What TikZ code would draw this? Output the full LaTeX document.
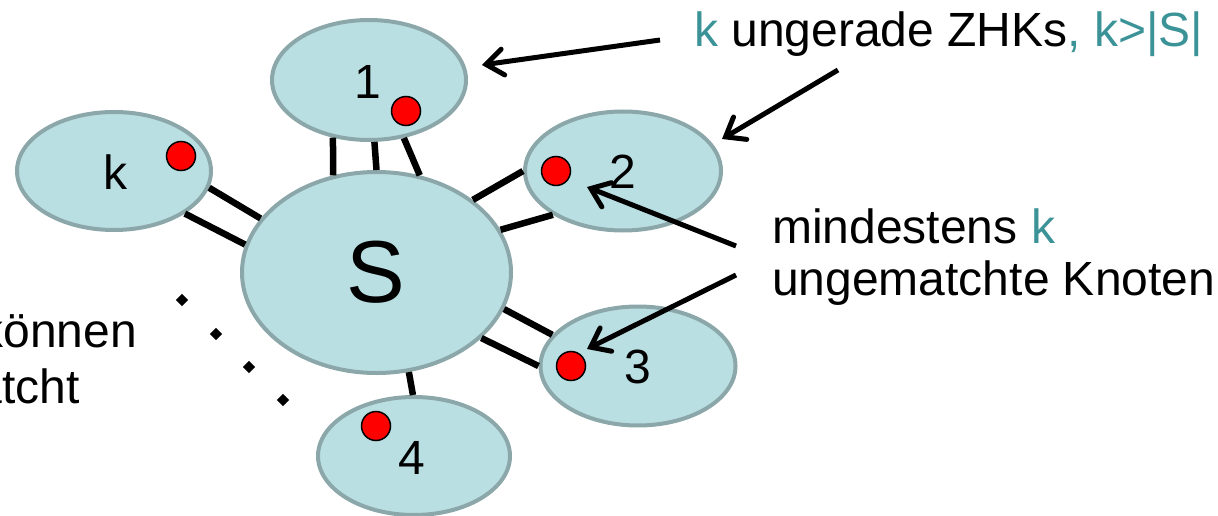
\documentclass[tikz,border=0pt]{standalone}
\usepackage{fontspec}
\setmainfont{Liberation Sans}
\usetikzlibrary{shapes.geometric,arrows.meta}
\definecolor{efill}{RGB}{185,223,227}
\definecolor{edraw}{RGB}{139,167,169}
\definecolor{kteal}{RGB}{59,147,151}
\begin{document}
\begin{tikzpicture}[x=1pt,y=-1pt,
  comp/.style={ellipse, draw=edraw, fill=efill, line width=4pt, inner sep=0pt},
  reddot/.style={circle, draw=black, fill=red, line width=1.5pt, minimum size=29pt, inner sep=0pt},
  lbl/.style={font=\fontsize{48}{52}\selectfont, anchor=base, inner sep=0pt},
  link/.style={line width=6.5pt},
  pointer/.style={line width=5pt, -{Straight Barb[length=17pt,width=26pt,line cap=round]}},
  dd/.style={diamond, fill=black, inner sep=0pt, minimum size=12.5pt}]
\clip (0,0) rectangle (1218,516);
% components
\node[comp, minimum width=269pt, minimum height=201pt] (S) at (376.5,272.5) {};
\node[comp, minimum width=194pt, minimum height=120pt] (e1) at (369,80) {};
\node[comp, minimum width=194pt, minimum height=118pt] (ek) at (114,171) {};
\node[comp, minimum width=196pt, minimum height=119pt] (e2) at (623,171) {};
\node[comp, minimum width=195pt, minimum height=119pt] (e3) at (638,366) {};
\node[comp, minimum width=192pt, minimum height=118pt] (e4) at (414,456) {};
% labels
\node[lbl, font=\fontsize{88}{90}\selectfont] (tS) at (376,302) {S};
\node[lbl] (t1) at (368,99) {1};
\node[lbl] (tk) at (115,189) {k};
\node[lbl] (t2) at (623,188) {2};
\node[lbl] (t3) at (638,383) {3};
\node[lbl] (t4) at (412,474) {4};
% red dots
\node[reddot] (d1) at (406,111) {};
\node[reddot] (dk) at (181,156) {};
\node[reddot] (d2) at (556,171) {};
\node[reddot] (d3) at (571,366) {};
\node[reddot] (d4) at (376,426) {};
% edges
\draw[link] (e1.238) -- (S.114);
\draw[link] (e1.275) -- (S.90);
\draw[link] (e1.301) -- (S.66);
\draw[link] (S.37) -- (e2.180);
\draw[link] (S.19) -- (e2.212);
\draw[link] (S.-16) -- (e3.160);
\draw[link] (S.-32) -- (e3.180);
\draw[link] (S.-72) -- (e4.91);
\draw[link] (ek.-10) -- (S.155);
\draw[link] (ek.-31) -- (S.168);
% dots
\node[dd] (p1) at (182,300) {};
\node[dd] (p2) at (216,334) {};
\node[dd] (p3) at (249,367) {};
\node[dd] (p4) at (283,400) {};
% texts
\node[lbl, anchor=base west] (top) at (694,47) {\textcolor{kteal}{k} ungerade ZHKs\textcolor{kteal}{, k>|S|}};
\node[lbl, anchor=base west] (m1) at (772,243) {mindestens \textcolor{kteal}{k}};
\node[lbl, anchor=base west] (m2) at (772,295) {ungematchte Knoten};
\node[lbl, anchor=base east] (l1) at (137,347) {können};
\node[lbl, anchor=base east] (l2) at (80,403) {atcht};
% arrows
\coordinate (a1s) at (660,40);  \coordinate (a1e) at (482,65);
\coordinate (a2s) at (838,70);  \coordinate (a2e) at (722,139);
\coordinate (a3s) at (736,246); \coordinate (a3e) at (587,187);
\coordinate (a4s) at (736,275); \coordinate (a4e) at (587,349);
\draw[pointer] (a1s) -- (a1e);
\draw[pointer] (a2s) -- (a2e);
\draw[pointer] (a3s) -- (a3e);
\draw[pointer] (a4s) -- (a4e);
\end{tikzpicture}
\end{document}
